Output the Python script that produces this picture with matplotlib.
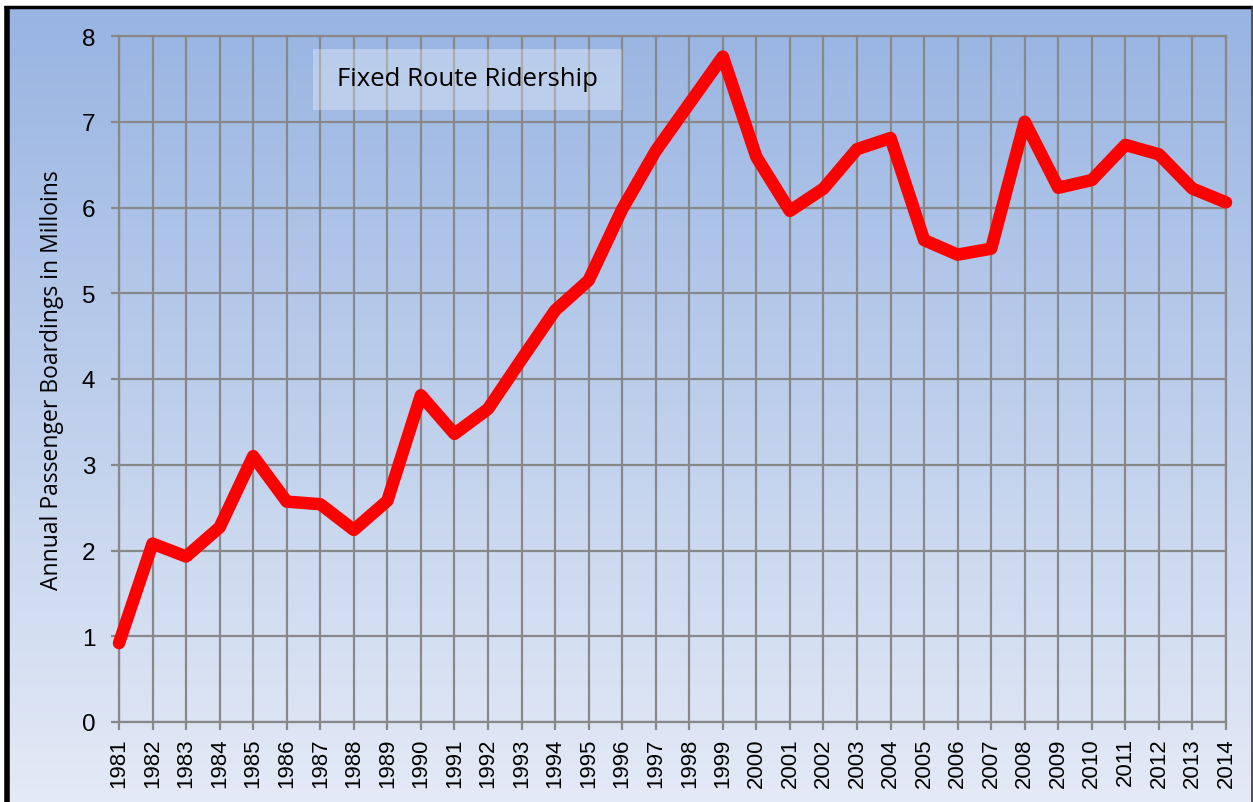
import numpy as np
import matplotlib
matplotlib.use('Agg')
import matplotlib.pyplot as plt
from matplotlib.lines import Line2D
from matplotlib.patches import Rectangle

years = list(range(1981, 2015))
riders = [0.92, 2.08, 1.93, 2.27, 3.10, 2.57, 2.54, 2.24, 2.58, 3.81,
          3.36, 3.65, 4.23, 4.80, 5.15, 5.98, 6.66, 7.21, 7.76, 6.59,
          5.96, 6.22, 6.68, 6.81, 5.62, 5.45, 5.52, 7.00, 6.23, 6.32,
          6.73, 6.62, 6.22, 6.06]
title = "Fixed Route Ridership"
ylab = "Annual Passenger Boardings in Milloins"

W, H = 1253, 803
fig = plt.figure(figsize=(W / 100, H / 100), dpi=100)
fig.patch.set_facecolor('white')

# gradient background inside frame
bg = fig.add_axes([9 / W, 0, (1251 - 9) / W, 1 - 9 / H])
top = np.array([152, 180, 226]) / 255
bot = np.array([228, 234, 246]) / 255
t = np.linspace(0, 1, 256)[:, None]
grad = top * (1 - t) + bot * t
bg.imshow(grad[:, None, :].repeat(2, axis=1), aspect='auto', extent=[0, 1, 0, 1])
bg.set_axis_off()

# frame lines
fig.add_artist(Line2D([6.5 / W, 6.5 / W], [0, 1 - 7 / H], color='black', lw=4, solid_capstyle='butt'))
fig.add_artist(Line2D([4 / W, 1], [1 - 8 / H, 1 - 8 / H], color='black', lw=2.5, solid_capstyle='butt'))
fig.add_artist(Line2D([1251.5 / W, 1251.5 / W], [0, 1 - 8 / H], color='#333333', lw=1.2))

ax = fig.add_axes([119 / W, 1 - 723 / H, (1226 - 119) / W, (723 - 37) / H])
ax.set_facecolor('none')
ax.plot(years, riders, color='#ff0000', lw=9, solid_joinstyle='round',
        solid_capstyle='round', clip_on=False, zorder=5)
ax.set_xlim(1981, 2014)
ax.set_ylim(0, 8)
ax.set_xticks(years)
ax.set_xticklabels([str(y) for y in years], rotation=90, fontsize=16,
                   family='Liberation Sans')
ax.set_yticks(range(0, 9))
ax.set_yticklabels([str(v) for v in range(0, 9)], fontsize=17.5, family='Liberation Sans')
ax.grid(True, color='#888888', lw=1.6)
ax.set_axisbelow(True)
for s in ax.spines.values():
    s.set_color('#888888')
    s.set_linewidth(1.6)
ax.tick_params(axis='both', color='#888888', width=1.6, length=6)
ax.tick_params(axis='x', pad=5)
ax.tick_params(axis='y', pad=11)
ax.set_ylabel(ylab, fontsize=16.5, family='Open Sans', labelpad=13)

fig.patches.append(Rectangle((313 / W, 1 - 111 / H), (622 - 313) / W, (111 - 50) / H,
                             transform=fig.transFigure, facecolor='white', alpha=0.3,
                             edgecolor='none', zorder=3))
fig.text(467 / W, 1 - 80 / H, title, fontsize=18.5, family='Open Sans',
         ha='center', va='center', zorder=4)

fig.savefig('out.png', dpi=100)
